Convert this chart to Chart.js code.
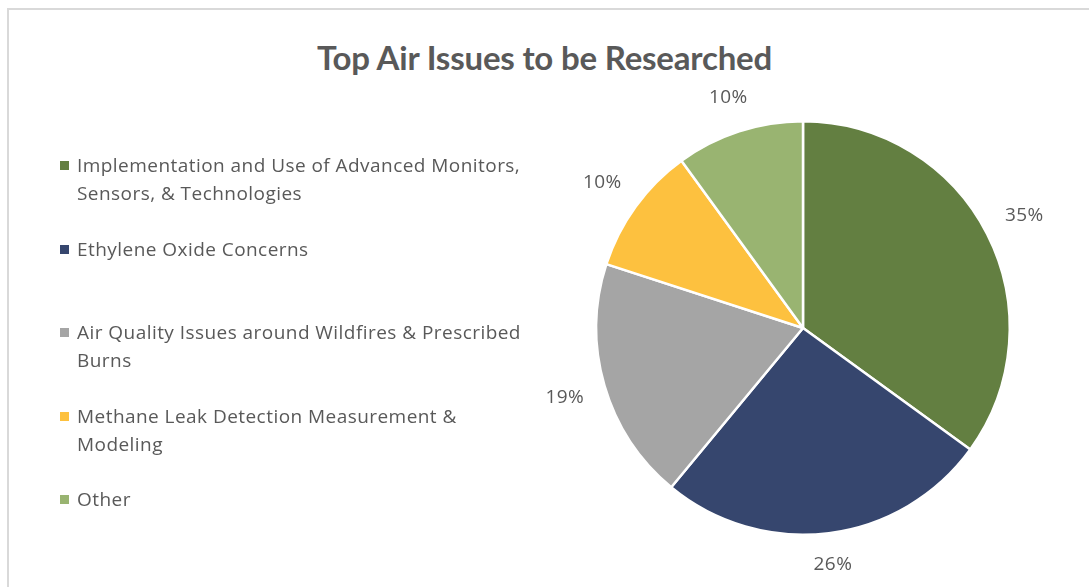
<!DOCTYPE html>
<html>
<head>
<meta charset="utf-8">
<title>Top Air Issues to be Researched</title>
<script src="https://cdn.jsdelivr.net/npm/chart.js@4/dist/chart.umd.min.js"></script>
<style>
  body { margin: 0; background: #fff; }
  #wrap { position: relative; width: 1089px; height: 587px; overflow: hidden; }
  #frame {
    position: absolute; left: 7px; top: 8px; right: -10px; bottom: -10px;
    border-left: 2px solid #d9d9d9; border-top: 2px solid #d9d9d9;
  }
  #title {
    position: absolute; left: 0; top: 38px; width: 1089px; text-align: center;
    font: bold 33px Lato, sans-serif; line-height: 38px; color: #595959;
    letter-spacing: -0.2px;
  }
  #chart { position: absolute; left: 0; top: 0; }
  .item {
    position: absolute; left: 60px; font: 19px "Open Sans", sans-serif;
    letter-spacing: 0.45px; line-height: 28px; color: #595959; white-space: nowrap;
  }
  .item .box {
    position: absolute; left: 0; top: 10px; width: 9px; height: 9px;
  }
  .item .txt { margin-left: 17px; display: block; }
</style>
</head>
<body>
<div id="wrap">
  <div id="frame"></div>
  <div id="title">Top Air Issues to be Researched</div>
  <canvas id="chart" width="1089" height="587"></canvas>
  <div id="legend"></div>
</div>
<script>
const categories = [
  ['Implementation and Use of Advanced Monitors,', 'Sensors, & Technologies'],
  ['Ethylene Oxide Concerns'],
  ['Air Quality Issues around Wildfires & Prescribed', 'Burns'],
  ['Methane Leak Detection Measurement &', 'Modeling'],
  ['Other']
];
const values = [35, 26, 19, 10, 10];
const colors = ['#637f41', '#36466e', '#a5a5a5', '#fdc13f', '#99b471'];

// percentage labels placed just outside each slice
const outsideLabels = {
  id: 'outsideLabels',
  afterDatasetsDraw(chart) {
    const ctx = chart.ctx;
    const meta = chart.getDatasetMeta(0);
    const total = values.reduce((a, b) => a + b, 0);
    ctx.save();
    ctx.font = '19px "Open Sans", sans-serif';
    ctx.letterSpacing = '0.45px';
    ctx.fillStyle = '#595959';
    ctx.textAlign = 'center';
    ctx.textBaseline = 'middle';
    meta.data.forEach((arc, i) => {
      const p = arc.getProps(['x', 'y', 'startAngle', 'endAngle', 'outerRadius'], true);
      const mid = (p.startAngle + p.endAngle) / 2;
      const text = Math.round(values[i] / total * 100) + '%';
      const w = ctx.measureText(text).width;
      const h = 19;
      const c = Math.cos(mid), s = Math.sin(mid);
      const d = p.outerRadius + 20 + Math.abs(c) * w / 2 + Math.abs(s) * h / 2;
      ctx.fillText(text, p.x + c * d, p.y + s * d);
    });
    ctx.restore();
  }
};

const chart = new Chart(document.getElementById('chart'), {
  type: 'pie',
  data: {
    labels: categories,
    datasets: [{
      data: values,
      backgroundColor: colors,
      borderColor: '#ffffff',
      borderWidth: 2.5
    }]
  },
  options: {
    responsive: false,
    animation: false,
    layout: { padding: { left: 595, right: 78, top: 119, bottom: 50 } },
    plugins: {
      legend: { display: false },
      tooltip: { enabled: false }
    }
  },
  plugins: [outsideLabels]
});

// legend on the left, one block per category
const legendEl = document.getElementById('legend');
chart.options.plugins.legend.labels.generateLabels(chart).forEach((item, i) => {
  const div = document.createElement('div');
  div.className = 'item';
  div.style.top = (151 + i * 83.5) + 'px';
  const box = document.createElement('span');
  box.className = 'box';
  box.style.background = item.fillStyle;
  const txt = document.createElement('span');
  txt.className = 'txt';
  const lines = Array.isArray(item.text) ? item.text : [item.text];
  lines.forEach((line, j) => {
    if (j) txt.appendChild(document.createElement('br'));
    txt.appendChild(document.createTextNode(line));
  });
  div.appendChild(box);
  div.appendChild(txt);
  legendEl.appendChild(div);
});
</script>
</body>
</html>
